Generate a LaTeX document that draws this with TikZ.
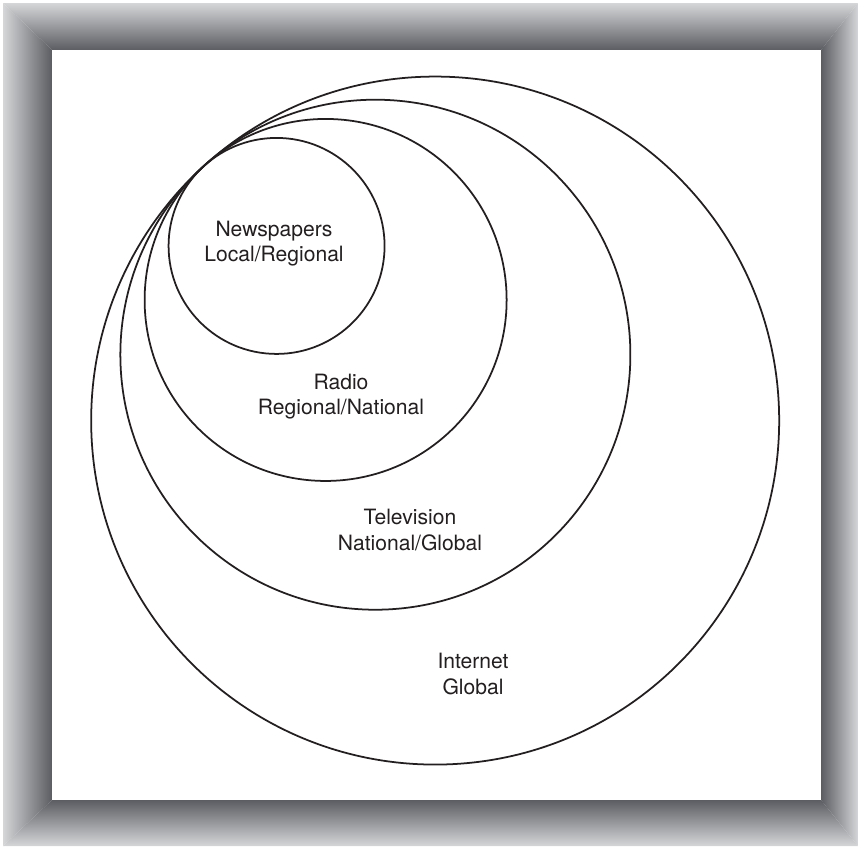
\documentclass[tikz,border=0pt]{standalone}
\usepackage{fontspec}
\setmainfont{TeX Gyre Heros}
\definecolor{framelight}{RGB}{213,214,216}
\definecolor{framedark}{RGB}{92,93,98}
\definecolor{ink}{RGB}{35,31,32}
\begin{document}
\begin{tikzpicture}[x=.3mm,y=-.3mm,line width=1.5pt,
 line cap=round,line join=round,font=\fontsize{18}{21.5}\selectfont]
\tikzset{label/.style={align=center,text=ink,inner sep=0pt}}
\useasboundingbox (0,0) rectangle (858,846);
% bevelled frame
\coordinate (A) at (3,3);
\coordinate (B) at (858,3);
\coordinate (C) at (858,846);
\coordinate (D) at (3,846);
\coordinate (a) at (52,50);
\coordinate (b) at (821,50);
\coordinate (c) at (821,800);
\coordinate (d) at (52,800);
\shade[top color=framelight,bottom color=framedark] (A)--(B)--(b)--(a)--cycle;
\shade[top color=framedark,bottom color=framelight] (d)--(c)--(C)--(D)--cycle;
\shade[left color=framelight,right color=framedark] (A)--(a)--(d)--(D)--cycle;
\shade[left color=framedark,right color=framelight] (b)--(B)--(C)--(c)--cycle;
\fill[white] (a) rectangle (c);
% nested circles, all touching at one point
\foreach \r in {108,181,255,344}{
 \draw[ink] ({204+.672*\r},{166+.740*\r}) circle[radius=\r];
}
\node[label] (news) at (274,244) {Newspapers\\Local/Regional};
\node[label] (radio) at (341,397) {Radio\\Regional/National};
\node[label] (tv) at (410,530) {Television\\National/Global};
\node[label] (net) at (473,674) {Internet\\Global};
\end{tikzpicture}
\end{document}
